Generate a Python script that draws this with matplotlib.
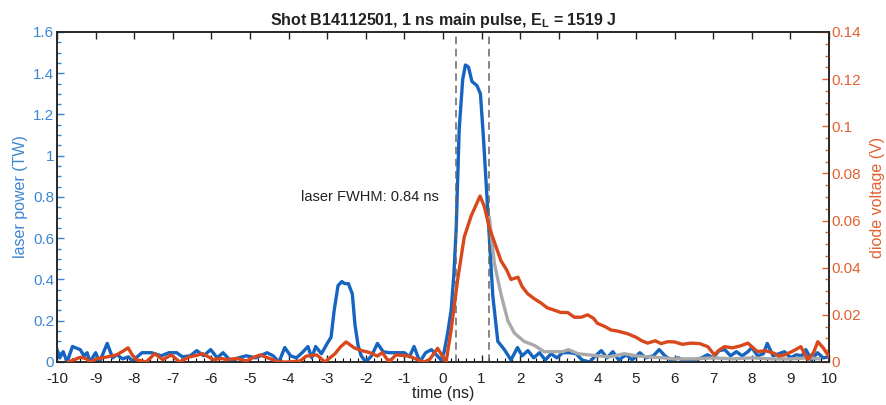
import matplotlib
matplotlib.use("Agg")
import matplotlib.pyplot as plt
from matplotlib.ticker import MultipleLocator, FuncFormatter

plt.rcParams['font.family'] = ['Liberation Sans', 'DejaVu Sans']

# ---- data ----
laser_t = [-10, -9.93, -9.84, -9.74, -9.6, -9.4, -9.3, -9.22, -9.15, -9.0, -8.9, -8.7, -8.56, -8.45,
           -8.3, -8.15, -8.05, -7.8, -7.55, -7.3, -7.1, -6.9, -6.75, -6.55, -6.38, -6.2, -6.02, -5.85,
           -5.7, -5.5, -5.3, -5.1, -4.85, -4.56, -4.4, -4.25, -4.1, -3.95, -3.8, -3.65, -3.5, -3.4,
           -3.3, -3.15, -3.0, -2.9, -2.82, -2.72, -2.62, -2.55, -2.45, -2.35, -2.28, -2.2, -2.12,
           -2.0, -1.85, -1.7, -1.55, -1.4, -1.2, -1.0, -0.87, -0.75, -0.6, -0.45, -0.3, -0.15, -0.05,
           0.03, 0.12, 0.21, 0.28, 0.34, 0.42, 0.51, 0.58, 0.66, 0.75, 0.88, 0.97, 1.05, 1.17, 1.29,
           1.42, 1.59, 1.76, 1.93, 2.05, 2.2, 2.35, 2.5, 2.65, 2.8, 2.95, 3.1, 3.3, 3.45, 3.6, 3.8,
           3.95, 4.1, 4.25, 4.4, 4.55, 4.75, 4.9, 5.1, 5.25, 5.45, 5.6, 5.75, 5.9, 6.1, 6.3, 6.5, 6.7,
           6.85, 7.0, 7.15, 7.3, 7.45, 7.6, 7.75, 7.9, 8.0, 8.15, 8.3, 8.4, 8.55, 8.7, 8.85, 9.0,
           9.15, 9.3, 9.4, 9.55, 9.7, 9.85, 10.0]
laser_power = [0.06, 0.02, 0.05, 0.0, 0.075, 0.06, 0.03, 0.045, 0.0, 0.045, 0.0, 0.09, 0.02, 0.035,
               0.015, 0.025, 0.005, 0.045, 0.045, 0.03, 0.045, 0.045, 0.025, 0.03, 0.055, 0.03, 0.06, 0.02,
               0.045, 0.005, 0.02, 0.03, 0.02, 0.045, 0.03, 0.0, 0.07, 0.03, 0.02, 0.045, 0.075, 0.02,
               0.075, 0.04, 0.09, 0.12, 0.25, 0.37, 0.39, 0.38, 0.38, 0.33, 0.18, 0.08, 0.03,
               0.0, 0.03, 0.09, 0.05, 0.045, 0.045, 0.045, 0.025, 0.075, 0.0, 0.045, 0.06, 0.03, 0.01,
               0.05, 0.14, 0.25, 0.42, 0.64, 1.13, 1.37, 1.44, 1.43, 1.36, 1.34, 1.30, 1.08, 0.70, 0.32,
               0.10, 0.06, 0.01, 0.07, 0.03, 0.055, 0.02, 0.045, 0.01, 0.04, 0.02, 0.045, 0.045, 0.04, 0.01, 0.0,
               0.03, 0.055, 0.02, 0.05, 0.01, 0.035, 0.01, 0.045, 0.02, 0.03, 0.06, 0.03, 0.01, 0.02, 0.0, 0.01, 0.02,
               0.035, 0.02, 0.055, 0.06, 0.03, 0.05, 0.03, 0.05, 0.07, 0.03, 0.04, 0.09, 0.03, 0.04, 0.05, 0.02,
               0.035, 0.03, 0.06, 0.01, 0.045, 0.02, 0.025]

model_t = [1.2, 1.33, 1.5, 1.68, 1.85, 2.1, 2.37, 2.62, 2.9, 3.1, 3.25, 3.5, 3.75, 4.0, 4.3, 4.7,
           5.0, 5.3, 5.7, 6.0, 6.5, 7.0, 7.5, 8.0, 8.5, 9.0, 9.5, 9.75]
model_power = [0.70, 0.48, 0.33, 0.20, 0.14, 0.10, 0.08, 0.05, 0.05, 0.05, 0.06, 0.04, 0.035, 0.03,
               0.025, 0.04, 0.03, 0.025, 0.02, 0.015, 0.015, 0.02, 0.015, 0.02, 0.015, 0.015, 0.02, 0.015]

diode_t = [-9.71, -9.55, -9.4, -9.25, -9.15, -8.95, -8.75, -8.46, -8.3, -8.16, -8.05, -7.95, -7.69,
           -7.47, -7.26, -7.04, -6.82, -6.6, -6.47, -6.22, -5.95, -5.75, -5.6, -5.35, -5.09, -4.9,
           -4.74, -4.5, -4.23, -3.97, -3.7, -3.54, -3.27, -3.06, -2.8, -2.65, -2.51, -2.3, -2.1, -1.9,
           -1.7, -1.57, -1.4, -1.22, -0.87, -0.74, -0.5, -0.35, -0.14, 0.08, 0.21, 0.38, 0.55, 0.73,
           0.96, 1.07, 1.2, 1.35, 1.5, 1.65, 1.76, 1.94, 2.05, 2.19, 2.35, 2.54, 2.7, 2.88, 3.05, 3.23,
           3.4, 3.58, 3.75, 3.9, 4.0, 4.2, 4.35, 4.55, 4.78, 5.0, 5.15, 5.3, 5.5, 5.65, 5.82, 6.0, 6.2,
           6.42, 6.65, 6.86, 7.03, 7.15, 7.29, 7.5, 7.7, 7.9, 8.0, 8.15, 8.35, 8.58, 8.7, 8.85, 9.05,
           9.27, 9.45, 9.6, 9.71, 9.85, 10.0]
diode_voltage = [0.0, 0.001, 0.002, 0.0015, 0.0, 0.0015, 0.002, 0.003, 0.0045, 0.006, 0.003, 0.001, 0.0,
                 0.0035, 0.001, 0.003, 0.0, 0.002, 0.0025, 0.0035, 0.001, 0.0015, 0.001, 0.0015, 0.0005, 0.002,
                 0.003, 0.0015, 0.0, 0.0, 0.0005, 0.0025, 0.003, 0.0, 0.0035, 0.0065, 0.0085, 0.006, 0.0048, 0.004,
                 0.0025, 0.004, 0.0, 0.003, 0.0025, 0.0015, 0.0, 0.001, 0.0058, 0.0, 0.0136, 0.035, 0.053, 0.062,
                 0.0704, 0.066, 0.057, 0.05, 0.043, 0.039, 0.035, 0.036, 0.032, 0.029, 0.027, 0.025, 0.023, 0.022, 0.021, 0.021,
                 0.019, 0.019, 0.020, 0.0185, 0.0164, 0.015, 0.0136, 0.013, 0.012, 0.0105, 0.009, 0.008, 0.009, 0.0078, 0.0086, 0.0085, 0.0075,
                 0.008, 0.0078, 0.0065, 0.003, 0.005, 0.0065, 0.006, 0.0068, 0.008, 0.0065, 0.0044, 0.0048, 0.0037, 0.0025, 0.003, 0.0045,
                 0.0065, 0.001, 0.004, 0.0086, 0.006, 0.0023]

fwhm_edges = [0.34, 1.18]
title = "Shot B14112501, 1 ns main pulse, E$_\\mathregular{L}$ = 1519 J"
fwhm_label = "laser FWHM: 0.84 ns"

# ---- styling ----
BLUE = "#1565c0"
BLUE_TXT = "#3d85d1"
RED = "#d9481c"
RED_TXT = "#e0612f"
GREY = "#a9a9a9"

fig = plt.figure(figsize=(8.87, 4.05), dpi=100)
ax = fig.add_axes([0.0643, 0.1062, 0.8703, 0.8148])
ax2 = ax.twinx()

ax.plot(laser_t, laser_power, color=BLUE, lw=2.4, zorder=3)
ax.plot(model_t, model_power, color=GREY, lw=2.4, zorder=4)
ax2.plot(diode_t, diode_voltage, color=RED, lw=2.4, zorder=3)
for x in fwhm_edges:
    ax.axvline(x, color="#666666", lw=1.1, ls=(0, (5, 3)), zorder=5)

ax.set_xlim(-10, 10)
ax.set_ylim(0, 1.6)
ax2.set_ylim(0, 0.14)

fmt = FuncFormatter(lambda v, p: "%g" % round(v, 4))
ax.xaxis.set_major_locator(MultipleLocator(1))
ax.xaxis.set_minor_locator(MultipleLocator(0.2))
ax.yaxis.set_major_locator(MultipleLocator(0.2))
ax.yaxis.set_minor_locator(MultipleLocator(0.05))
ax2.yaxis.set_major_locator(MultipleLocator(0.02))
ax2.yaxis.set_minor_locator(MultipleLocator(0.005))
ax.xaxis.set_major_formatter(fmt)
ax.yaxis.set_major_formatter(fmt)
ax2.yaxis.set_major_formatter(fmt)

ax.tick_params(axis='x', which='major', direction='in', length=5, width=1, top=True,
               labelsize=11, colors='#222222', pad=7)
ax.tick_params(axis='x', which='minor', direction='in', length=3, width=0.8, top=False)
ax.tick_params(axis='y', which='major', direction='in', length=5, width=1, labelsize=11,
               colors=BLUE_TXT, pad=2)
ax.tick_params(axis='y', which='minor', direction='in', length=3, width=1, colors=BLUE_TXT)
ax2.tick_params(axis='y', which='major', direction='in', length=5, width=1, labelsize=11,
                colors=RED_TXT, pad=2)
ax2.tick_params(axis='y', which='minor', direction='in', length=3, width=1, colors=RED_TXT)

for a in (ax, ax2):
    for s in a.spines.values():
        s.set_color('#222222')
        s.set_linewidth(1.1)

ax.set_xlabel("time (ns)", fontsize=11.5, color='#222222', labelpad=0)
ax.set_ylabel("laser power (TW)", fontsize=11.5, color=BLUE_TXT, labelpad=4)
ax2.set_ylabel("diode voltage (V)", fontsize=11.5, color=RED_TXT, labelpad=6)
ax.set_title(title, fontsize=11.5, fontweight='bold', color='#222222', pad=5)

ax.text(-3.68, 0.80, fwhm_label, fontsize=10.5, color='#222222', ha='left', va='center')

fig.savefig("out.png", dpi=100)
